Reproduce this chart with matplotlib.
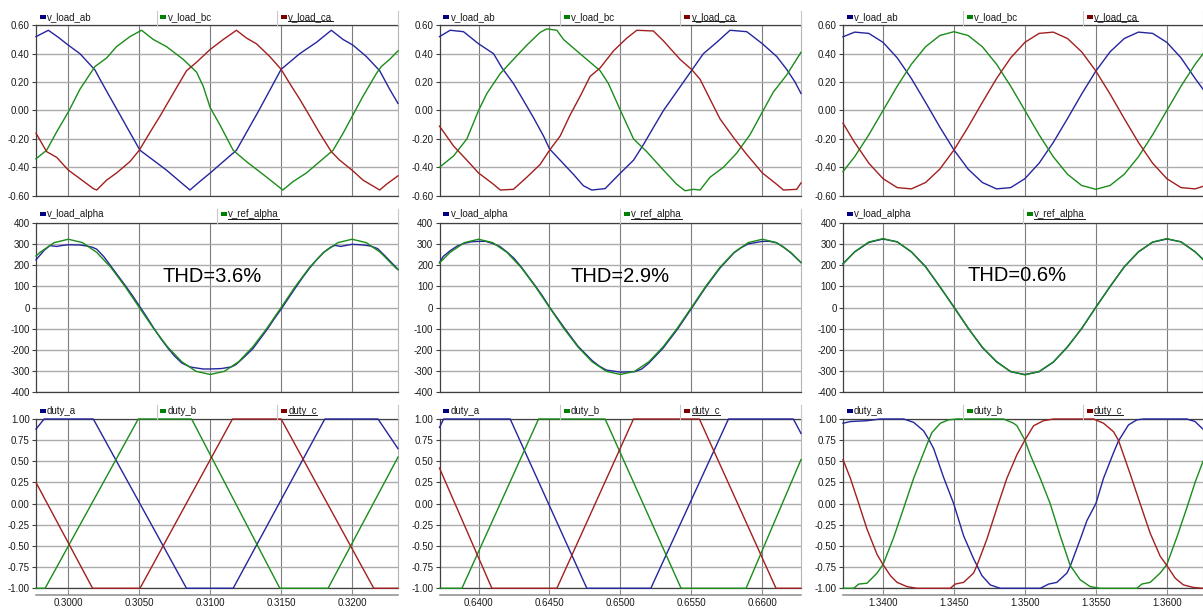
import matplotlib.pyplot as plt
import matplotlib.transforms as mtransforms
from matplotlib.lines import Line2D
from matplotlib.patches import Rectangle
from matplotlib.ticker import FixedLocator, FuncFormatter

plt.rcParams['font.family'] = ['Liberation Sans', 'DejaVu Sans']

BLUE, GREEN, RED = '#25259e', '#1a8c1a', '#a21f1f'
SQUARE = {BLUE: '#000080', GREEN: '#008000', RED: '#800000'}
FRAME = '#404040'

# ---------------- column 1 : t = 0.298 .. 0.323 s ----------------
t_ab1 = [0.29772, 0.29859, 0.29930, 0.30000, 0.30082, 0.30188, 0.30223, 0.30293, 0.30364, 0.30434,
         0.30505, 0.30599, 0.30692, 0.30786, 0.30857, 0.30927, 0.31000, 0.31092, 0.31185, 0.31343,
         0.31500, 0.31631, 0.31749, 0.31854, 0.31937, 0.32007, 0.32101, 0.32195, 0.32265, 0.32324]
v_ab1 = [0.52, 0.565, 0.515, 0.46, 0.40, 0.285, 0.22, 0.095, -0.03, -0.155,
         -0.28, -0.35, -0.42, -0.50, -0.56, -0.50, -0.44, -0.36, -0.28, 0.0,
         0.29, 0.40, 0.48, 0.565, 0.50, 0.46, 0.38, 0.28, 0.15, 0.05]
t_bc1 = [0.29772, 0.29847, 0.29918, 0.30000, 0.30082, 0.30188, 0.30270, 0.30340, 0.30434, 0.30516,
         0.30599, 0.30692, 0.30810, 0.30904, 0.30951, 0.31000, 0.31068, 0.31162, 0.31256, 0.31373,
         0.31512, 0.31585, 0.31678, 0.31772, 0.31866, 0.31937, 0.32007, 0.32077, 0.32171, 0.32207,
         0.32265, 0.32324]
v_bc1 = [-0.34, -0.28, -0.15, -0.01, 0.15, 0.31, 0.37, 0.45, 0.52, 0.565,
         0.50, 0.45, 0.36, 0.27, 0.17, 0.02, -0.10, -0.28, -0.36, -0.45,
         -0.56, -0.50, -0.44, -0.36, -0.28, -0.16, -0.03, 0.10, 0.26, 0.31,
         0.36, 0.42]
t_ca1 = [0.29772, 0.29847, 0.29918, 0.30000, 0.30082, 0.30176, 0.30200, 0.30270, 0.30340, 0.30434,
         0.30500, 0.30575, 0.30646, 0.30739, 0.30833, 0.30904, 0.31000, 0.31092, 0.31185, 0.31256,
         0.31326, 0.31420, 0.31500, 0.31561, 0.31631, 0.31702, 0.31772, 0.31854, 0.31913, 0.32000,
         0.32077, 0.32195, 0.32242, 0.32324]
v_ca1 = [-0.16, -0.29, -0.33, -0.42, -0.48, -0.55, -0.56, -0.49, -0.44, -0.36,
         -0.28, -0.155, -0.04, 0.12, 0.28, 0.34, 0.43, 0.50, 0.565, 0.51,
         0.47, 0.38, 0.29, 0.19, 0.08, -0.04, -0.16, -0.29, -0.35, -0.42,
         -0.49, -0.56, -0.52, -0.46]

t_ref1 = [0.29772, 0.298, 0.299, 0.300, 0.301, 0.302, 0.303, 0.304, 0.305, 0.306, 0.307, 0.308, 0.309, 0.310,
          0.311, 0.312, 0.313, 0.314, 0.315, 0.316, 0.317, 0.318, 0.319, 0.320, 0.321, 0.322, 0.323, 0.32324]
v_ref1 = [243, 260, 306, 322, 306, 260, 189, 99, 0, -98, -186, -256, -301, -316,
          -301, -256, -186, -98, 0, 99, 189, 260, 306, 322, 306, 260, 192, 178]
t_alpha1 = [0.29772, 0.29830, 0.29870, 0.29918, 0.29950, 0.30000, 0.30080, 0.30130, 0.30170, 0.30200,
            0.30250, 0.30300, 0.30350, 0.30400, 0.30450, 0.30500, 0.30550, 0.30600, 0.30650, 0.30700,
            0.30750, 0.30800, 0.30850, 0.30870, 0.30900, 0.30950, 0.31000, 0.31080, 0.31150, 0.31180,
            0.31230, 0.31300, 0.31350, 0.31400, 0.31450, 0.31500, 0.31550, 0.31600, 0.31650, 0.31700,
            0.31750, 0.31800, 0.31850, 0.31880, 0.31920, 0.31950, 0.32000, 0.32080, 0.32130, 0.32180,
            0.32230, 0.32324]
v_alpha1 = [225, 270, 292, 288, 292, 296, 295, 290, 284, 275,
            240, 195, 150, 105, 58, 8, -42, -95, -145, -190,
            -230, -262, -278, -282, -285, -290, -290, -288, -280, -270,
            -240, -195, -150, -105, -55, -8, 42, 92, 140, 185,
            225, 260, 285, 293, 288, 292, 298, 295, 290, 278,
            245, 180]

t_da1 = [0.29772, 0.29829, 0.30176, 0.30833, 0.31162, 0.31808, 0.32183, 0.32324]
v_da1 = [0.88, 1.0, 1.0, -1.0, -1.0, 1.0, 1.0, 0.65]
t_db1 = [0.29772, 0.29836, 0.30493, 0.30869, 0.31491, 0.31831, 0.32324]
v_db1 = [-1.0, -1.0, 1.0, 1.0, -1.0, -1.0, 0.55]
t_dc1 = [0.29772, 0.30171, 0.30505, 0.31157, 0.31500, 0.32153, 0.32324]
v_dc1 = [0.25, -1.0, -1.0, 1.0, 1.0, -1.0, -1.0]

# ---------------- column 2 : t = 0.637 .. 0.663 s ----------------
t_ab2 = [0.63725, 0.63800, 0.63894, 0.64000, 0.64106, 0.64165, 0.64246, 0.64317, 0.64387, 0.64458,
         0.64500, 0.64575, 0.64669, 0.64739, 0.64798, 0.64892, 0.65000, 0.65092, 0.65162, 0.65232,
         0.65303, 0.65500, 0.65584, 0.65678, 0.65772, 0.65890, 0.66000, 0.66101, 0.66171, 0.66230,
         0.66272]
v_ab2 = [0.52, 0.565, 0.555, 0.47, 0.40, 0.30, 0.19, 0.07, -0.05, -0.18,
         -0.27, -0.35, -0.45, -0.53, -0.56, -0.55, -0.44, -0.35, -0.24, -0.12,
         0.0, 0.28, 0.40, 0.48, 0.565, 0.555, 0.47, 0.38, 0.29, 0.20,
         0.12]
t_bc2 = [0.63725, 0.63824, 0.63918, 0.64000, 0.64059, 0.64153, 0.64246, 0.64340, 0.64434, 0.64481,
         0.64552, 0.64599, 0.64692, 0.64786, 0.64857, 0.64915, 0.65000, 0.65092, 0.65185, 0.65303,
         0.65397, 0.65455, 0.65514, 0.65561, 0.65631, 0.65725, 0.65819, 0.65913, 0.66000, 0.66077,
         0.66171, 0.66272]
v_bc2 = [-0.40, -0.32, -0.20, 0.0, 0.12, 0.26, 0.36, 0.46, 0.55, 0.575,
         0.565, 0.50, 0.42, 0.34, 0.28, 0.19, 0.0, -0.20, -0.29, -0.42,
         -0.52, -0.565, -0.555, -0.56, -0.47, -0.40, -0.30, -0.17, -0.01, 0.13,
         0.25, 0.41]
t_ca2 = [0.63725, 0.63824, 0.63918, 0.64000, 0.64106, 0.64153, 0.64246, 0.64340, 0.64434, 0.64500,
         0.64575, 0.64646, 0.64716, 0.64786, 0.64857, 0.64951, 0.65045, 0.65115, 0.65232, 0.65303,
         0.65420, 0.65500, 0.65561, 0.65631, 0.65702, 0.65796, 0.65890, 0.66000, 0.66101, 0.66148,
         0.66242, 0.66272]
v_ca2 = [-0.11, -0.25, -0.35, -0.44, -0.52, -0.56, -0.555, -0.47, -0.38, -0.28,
         -0.18, -0.03, 0.10, 0.24, 0.30, 0.42, 0.51, 0.565, 0.56, 0.49,
         0.36, 0.29, 0.22, 0.08, -0.06, -0.19, -0.31, -0.44, -0.52, -0.56,
         -0.555, -0.51]

t_ref2 = [0.63725, 0.638, 0.639, 0.640, 0.641, 0.642, 0.643, 0.644, 0.645, 0.646, 0.647, 0.648, 0.649, 0.650,
          0.651, 0.652, 0.653, 0.654, 0.655, 0.656, 0.657, 0.658, 0.659, 0.660, 0.661, 0.662, 0.66272]
v_ref2 = [210, 260, 306, 322, 306, 260, 189, 99, 0, -98, -186, -256, -301, -316,
          -301, -256, -186, -98, 0, 99, 189, 260, 306, 322, 306, 260, 212]
t_alpha2 = [0.63725, 0.6375, 0.638, 0.6385, 0.639, 0.6395, 0.640, 0.6405, 0.641, 0.6415,
            0.642, 0.6425, 0.643, 0.644, 0.6445, 0.645, 0.6455, 0.646, 0.647, 0.648,
            0.6485, 0.649, 0.650, 0.651, 0.6515, 0.652, 0.653, 0.654, 0.655, 0.6555,
            0.656, 0.657, 0.658, 0.6585, 0.659, 0.660, 0.6605, 0.661, 0.6615, 0.662,
            0.66272]
v_alpha2 = [212, 240, 268, 290, 303, 310, 312, 312, 302, 288,
            262, 232, 192, 102, 55, 2, -45, -92, -182, -250,
            -276, -295, -305, -303, -290, -262, -192, -104, -5, 45,
            95, 185, 258, 282, 300, 312, 312, 305, 285, 258,
            212]

t_da2 = [0.63725, 0.63754, 0.64223, 0.64763, 0.65214, 0.65761, 0.66218, 0.66272]
v_da2 = [0.90, 1.0, 1.0, -1.0, -1.0, 1.0, 1.0, 0.83]
t_db2 = [0.63725, 0.63883, 0.64423, 0.64892, 0.65427, 0.65885, 0.66272]
v_db2 = [-1.0, -1.0, 1.0, 1.0, -1.0, -1.0, 0.52]
t_dc2 = [0.63725, 0.64094, 0.64552, 0.65092, 0.65556, 0.66096, 0.66272]
v_dc2 = [0.42, -1.0, -1.0, 1.0, 1.0, -1.0, -1.0]

# ---------------- column 3 : t = 1.337 .. 1.363 s ----------------
t3 = [1.33718, 1.338, 1.339, 1.340, 1.341, 1.342, 1.343, 1.344, 1.345, 1.346, 1.347, 1.348, 1.349, 1.350,
      1.351, 1.352, 1.353, 1.354, 1.355, 1.356, 1.357, 1.358, 1.359, 1.360, 1.361, 1.362, 1.36255]
v_ab3 = [0.519, 0.552, 0.543, 0.480, 0.371, 0.225, 0.057, -0.116, -0.278, -0.413, -0.507, -0.552, -0.543, -0.480,
         -0.371, -0.225, -0.057, 0.116, 0.278, 0.413, 0.507, 0.552, 0.543, 0.480, 0.371, 0.225, 0.150]
v_bc3 = [-0.430, -0.326, -0.171, 0.0, 0.171, 0.326, 0.449, 0.528, 0.555, 0.528, 0.449, 0.326, 0.171, 0.0,
         -0.171, -0.326, -0.449, -0.528, -0.555, -0.528, -0.449, -0.326, -0.171, 0.0, 0.171, 0.326, 0.399]
v_ca3 = [-0.089, -0.225, -0.371, -0.480, -0.543, -0.552, -0.507, -0.413, -0.278, -0.116, 0.057, 0.225, 0.371, 0.480,
         0.543, 0.552, 0.507, 0.413, 0.278, 0.116, -0.057, -0.225, -0.371, -0.480, -0.543, -0.552, -0.534]
v_ref3 = [205, 263, 309, 325, 309, 263, 191, 100, 0, -98, -187, -257, -302, -318,
          -302, -257, -187, -98, 0, 100, 191, 263, 309, 325, 309, 263, 226]
v_alpha3 = [207, 262, 307, 323, 310, 262, 193, 98, 3, -97, -189, -255, -303, -316,
            -303, -258, -185, -100, 2, 98, 192, 262, 308, 323, 310, 262, 228]

t_da3 = [1.33718, 1.33770, 1.33887, 1.33981, 1.34146, 1.34216, 1.34286, 1.34322, 1.34357, 1.34427,
         1.34498, 1.34568, 1.34638, 1.34662, 1.34697, 1.34756, 1.34826, 1.35108, 1.35167, 1.35225,
         1.35296, 1.35319, 1.35390, 1.35437, 1.35500, 1.35554, 1.35624, 1.35659, 1.35730, 1.35789,
         1.35836, 1.36141, 1.36199, 1.36255]
v_da3 = [0.95, 0.97, 0.98, 1.0, 1.0, 0.96, 0.86, 0.76, 0.65, 0.31,
         0.0, -0.38, -0.65, -0.73, -0.85, -0.96, -1.0, -1.0, -0.95, -0.93,
         -0.82, -0.74, -0.42, -0.2, 0.0, 0.30, 0.60, 0.74, 0.93, 0.99,
         1.0, 1.0, 0.97, 0.88]
t_db3 = [1.33718, 1.33793, 1.33829, 1.33887, 1.33958, 1.34000, 1.34075, 1.34146, 1.34216, 1.34286,
         1.34322, 1.34345, 1.34404, 1.34462, 1.34521, 1.34850, 1.34920, 1.34944, 1.35000, 1.35037,
         1.35108, 1.35178, 1.35249, 1.35319, 1.35390, 1.35460, 1.35530, 1.35789, 1.35824, 1.35883,
         1.35953, 1.36000, 1.36070, 1.36141, 1.36199, 1.36255]
v_db3 = [-1.0, -1.0, -0.95, -0.94, -0.82, -0.72, -0.40, -0.05, 0.30, 0.60,
         0.75, 0.84, 0.95, 0.99, 1.0, 1.0, 0.95, 0.92, 0.75, 0.58,
         0.30, 0.0, -0.38, -0.73, -0.90, -0.98, -1.0, -1.0, -0.95, -0.93,
         -0.82, -0.72, -0.40, -0.05, 0.25, 0.50]
t_dc3 = [1.33718, 1.33770, 1.33829, 1.33887, 1.33958, 1.34000, 1.34052, 1.34099, 1.34169, 1.34239,
         1.34474, 1.34509, 1.34568, 1.34638, 1.34662, 1.34732, 1.34803, 1.34873, 1.34944, 1.35000,
         1.35061, 1.35131, 1.35202, 1.35484, 1.35554, 1.35624, 1.35659, 1.35742, 1.35812, 1.35883,
         1.35953, 1.36000, 1.36059, 1.36117, 1.36188, 1.36255]
v_dc3 = [0.52, 0.30, 0.0, -0.30, -0.60, -0.72, -0.85, -0.93, -0.98, -1.0,
         -1.0, -0.95, -0.93, -0.82, -0.73, -0.42, -0.05, 0.30, 0.58, 0.75,
         0.92, 0.98, 1.0, 1.0, 0.95, 0.85, 0.75, 0.35, 0.0, -0.35,
         -0.62, -0.73, -0.88, -0.96, -0.99, -1.0]

# ---------------- axes settings ----------------
xlims = [(0.29772, 0.32324), (0.63725, 0.66272), (1.33718, 1.36255)]
xticks = [[0.300, 0.305, 0.310, 0.315, 0.320],
          [0.640, 0.645, 0.650, 0.655, 0.660],
          [1.340, 1.345, 1.350, 1.355, 1.360]]
yticks = [[-0.6, -0.4, -0.2, 0.0, 0.2, 0.4, 0.6],
          [-400, -300, -200, -100, 0, 100, 200, 300, 400],
          [-1.0, -0.75, -0.5, -0.25, 0.0, 0.25, 0.5, 0.75, 1.0]]
yfmt = ['%.2f', '%d', '%.2f']
thd_labels = ['THD=3.6%', 'THD=2.9%', 'THD=0.6%']
thd_pos = [(0.486, 0.68), (0.499, 0.68), (0.483, 0.686)]

panels = [
    [[('v_load_ab', BLUE, t_ab1, v_ab1), ('v_load_bc', GREEN, t_bc1, v_bc1), ('v_load_ca', RED, t_ca1, v_ca1)],
     [('v_load_ab', BLUE, t_ab2, v_ab2), ('v_load_bc', GREEN, t_bc2, v_bc2), ('v_load_ca', RED, t_ca2, v_ca2)],
     [('v_load_ab', BLUE, t3, v_ab3), ('v_load_bc', GREEN, t3, v_bc3), ('v_load_ca', RED, t3, v_ca3)]],
    [[('v_load_alpha', BLUE, t_alpha1, v_alpha1), ('v_ref_alpha', GREEN, t_ref1, v_ref1)],
     [('v_load_alpha', BLUE, t_alpha2, v_alpha2), ('v_ref_alpha', GREEN, t_ref2, v_ref2)],
     [('v_load_alpha', BLUE, t3, v_alpha3), ('v_ref_alpha', GREEN, t3, v_ref3)]],
    [[('duty_a', BLUE, t_da1, v_da1), ('duty_b', GREEN, t_db1, v_db1), ('duty_c', RED, t_dc1, v_dc1)],
     [('duty_a', BLUE, t_da2, v_da2), ('duty_b', GREEN, t_db2, v_db2), ('duty_c', RED, t_dc2, v_dc2)],
     [('duty_a', BLUE, t_da3, v_da3), ('duty_b', GREEN, t_db3, v_db3), ('duty_c', RED, t_dc3, v_dc3)]],
]

W, H = 1203, 608
fig = plt.figure(figsize=(W / 100, H / 100), dpi=100)

col_px = [(36, 398), (439.5, 801), (843, 1203)]
row_px = [(25.3, 195.7), (222.7, 392.3), (419, 588.3)]

underlined = []
for r in range(3):
    for c in range(3):
        x0, x1 = col_px[c]
        y0, y1 = row_px[r]
        ax = fig.add_axes([x0 / W, 1 - y1 / H, (x1 - x0) / W, (y1 - y0) / H])

        series = panels[r][c]
        for label, color, t, v in series:
            # curves sit on the frame at +/-1 in the duty plots, keep them visible there
            ax.plot(t, v, color=color, lw=1.0, zorder=3, clip_on=False)

        ax.set_xlim(*xlims[c])
        ax.set_ylim(yticks[r][0], yticks[r][-1])
        ax.xaxis.set_major_locator(FixedLocator(xticks[c]))
        ax.yaxis.set_major_locator(FixedLocator(yticks[r]))
        fmt = yfmt[r]
        ax.yaxis.set_major_formatter(FuncFormatter(lambda val, pos, f=fmt: f % val))
        ax.xaxis.set_major_formatter(FuncFormatter(lambda val, pos: '%.4f' % val))

        ax.set_axisbelow(True)
        ax.xaxis.grid(True, color='#7c7c7c', lw=0.8)
        ax.yaxis.grid(True, color='#ababab', lw=1.0)

        for side in ('left', 'top', 'bottom'):
            ax.spines[side].set_color(FRAME)
            ax.spines[side].set_linewidth(0.9)
        ax.spines['right'].set_color('#b4b4b4')
        ax.spines['right'].set_linewidth(0.8)

        ax.tick_params(axis='y', direction='out', length=3, width=0.8, color=FRAME,
                       labelsize=7, pad=1.5, labelcolor='#1a1a1a')
        if r == 2:
            ax.spines['bottom'].set_position(('outward', 4.5))
            ax.spines['bottom'].set_color('#8c8c8c')
            ax.spines['bottom'].set_linewidth(1.1)
            ax.tick_params(axis='x', direction='in', length=4.5, width=0.8, color='#8c8c8c',
                           labelsize=7, pad=2.5, labelcolor='#1a1a1a')
            ax.plot([0, 1], [0, 0], transform=ax.transAxes, color=FRAME, lw=0.9,
                    clip_on=False, zorder=2.5)
        else:
            ax.tick_params(axis='x', length=0, labelbottom=False)

        # legend strip above the plot
        n = len(series)
        for i, (label, color, t, v) in enumerate(series):
            f = i / n
            anchor = fig.dpi_scale_trans + mtransforms.ScaledTranslation(f, 1, ax.transAxes)
            fig.add_artist(Rectangle((0.035, 0.065), 0.06, 0.04, transform=anchor,
                                     color=SQUARE[color], lw=0))
            txt = ax.annotate(label, xy=(f, 1), xycoords='axes fraction', xytext=(8, 6),
                              textcoords='offset points', va='center', ha='left',
                              fontsize=7, color='#1a1a1a', annotation_clip=False)
            if i == n - 1:
                underlined.append(txt)
            sep = fig.dpi_scale_trans + mtransforms.ScaledTranslation((i + 1) / n, 1, ax.transAxes)
            fig.add_artist(Line2D([0, 0], [0, 0.14], transform=sep, color='#c8c8c8', lw=0.8))

        if r == 1:
            fx, fy = thd_pos[c]
            ax.text(fx, fy, thd_labels[c], transform=ax.transAxes, ha='center', va='center',
                    fontsize=14.5, color='black')

fig.canvas.draw()
renderer = fig.canvas.get_renderer()
for txt in underlined:
    bb = txt.get_window_extent(renderer)
    fig.add_artist(Line2D([bb.x0, bb.x1], [bb.y0 + 0.5, bb.y0 + 0.5],
                          transform=mtransforms.IdentityTransform(), color='#1a1a1a', lw=0.7))

fig.savefig('out.png', dpi=100)
